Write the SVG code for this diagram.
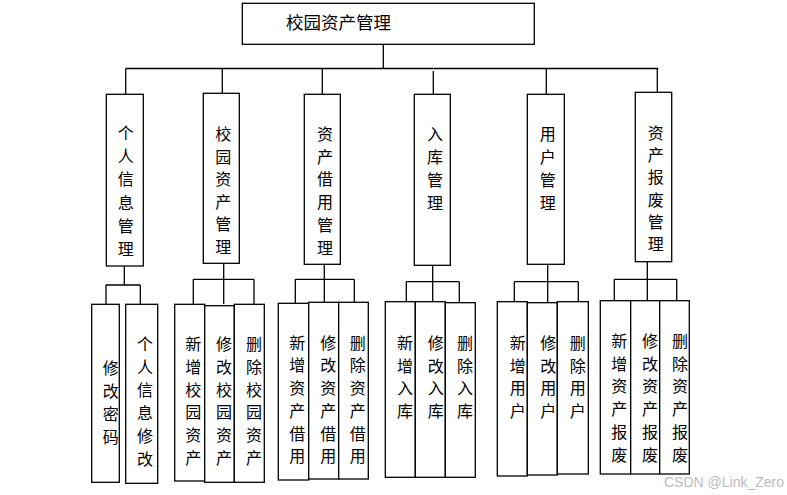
<svg xmlns="http://www.w3.org/2000/svg" width="787" height="495" viewBox="0 0 787 495">
<style>
.b{fill:#fff;stroke:#000;stroke-width:1.3}
.c{fill:none;stroke:#000;stroke-width:1.3}
.t{font-family:"Noto Sans CJK SC","Liberation Serif",sans-serif;font-size:16px;fill:#000;text-anchor:middle;dominant-baseline:central}
.top{font-size:17.5px;text-anchor:start}
.wm{font-family:"Liberation Sans",sans-serif;font-size:14px;fill:#bbb}
</style>
<rect width="787" height="495" fill="#fff"/>
<g id="connectors">
<path class="c" d="M383.3 44V69M125.7 68.5H658.3"/>
<path class="c" d="M125.7 68.5V94M222.3 68.5V93M322.3 68.5V94M433.3 71V94M546.3 68.5V94M657.3 68.5V92"/>
<path class="c" d="M124.3 266V285M106 285H140.3M106 285V304M140.3 285V305"/>
<path class="c" d="M223.7 263V304M193.3 279.3H254M193.3 279.3V304M254 279.3V304"/>
<path class="c" d="M324.3 264V302.5M295.3 279.3H354.3M295.3 279.3V303M354.3 279.3V302.5"/>
<path class="c" d="M432.7 265V301.5M406.3 281.7H459.3M406.3 281.7V301.5M459.3 281.7V302.5"/>
<path class="c" d="M547.7 264V302.5M514.3 281.7H578.3M514.3 281.7V301.5M578.3 281.7V301.5"/>
<path class="c" d="M647.3 262V300.5M614.3 279.3H676.7M614.3 279.3V300.5M676.7 279.3V300.5"/>
</g>
<g id="root"><rect class="b" x="242.3" y="3.3" width="292" height="41"/><text class="t top" x="286" y="21">校园资产管理</text></g>
<g id="n1"><rect class="b" x="106.3" y="94.3" width="37" height="171.7"/><text class="t"><tspan x="125.7" y="131.7">个</tspan><tspan x="125.7" y="155">人</tspan><tspan x="125.7" y="178.3">信</tspan><tspan x="125.7" y="201.6">息</tspan><tspan x="125.7" y="224.9">管</tspan><tspan x="125.7" y="248.2">理</tspan></text></g>
<g id="n2"><rect class="b" x="203.3" y="93.3" width="36" height="170"/><text class="t"><tspan x="223.3" y="133">校</tspan><tspan x="223.3" y="155.6">园</tspan><tspan x="223.3" y="178.2">资</tspan><tspan x="223.3" y="200.8">产</tspan><tspan x="223.3" y="223.4">管</tspan><tspan x="223.3" y="246">理</tspan></text></g>
<g id="n3"><rect class="b" x="304.3" y="94.3" width="36" height="170"/><text class="t"><tspan x="325" y="133">资</tspan><tspan x="325" y="155.7">产</tspan><tspan x="325" y="178.4">借</tspan><tspan x="325" y="201.1">用</tspan><tspan x="325" y="223.8">管</tspan><tspan x="325" y="246.5">理</tspan></text></g>
<g id="n4"><rect class="b" x="414.3" y="94.3" width="36" height="171"/><text class="t"><tspan x="435" y="133.3">入</tspan><tspan x="435" y="156.1">库</tspan><tspan x="435" y="178.9">管</tspan><tspan x="435" y="201.7">理</tspan></text></g>
<g id="n5"><rect class="b" x="527.3" y="94.3" width="37" height="170"/><text class="t"><tspan x="547.7" y="133.3">用</tspan><tspan x="547.7" y="156.1">户</tspan><tspan x="547.7" y="178.9">管</tspan><tspan x="547.7" y="201.7">理</tspan></text></g>
<g id="n6"><rect class="b" x="635.3" y="92.3" width="36.4" height="169.4"/><text class="t"><tspan x="655.7" y="131.7">资</tspan><tspan x="655.7" y="154">产</tspan><tspan x="655.7" y="176.3">报</tspan><tspan x="655.7" y="198.6">废</tspan><tspan x="655.7" y="220.9">管</tspan><tspan x="655.7" y="243.2">理</tspan></text></g>
<g id="n1a"><rect class="b" x="91.7" y="304.3" width="27.6" height="178"/><text class="t"><tspan x="110.7" y="366.7">修</tspan><tspan x="110.7" y="389.7">改</tspan><tspan x="110.7" y="412.7">密</tspan><tspan x="110.7" y="435.7">码</tspan></text></g>
<g id="n1b"><rect class="b" x="125.7" y="304.3" width="32" height="179"/><text class="t"><tspan x="145" y="343.3">个</tspan><tspan x="145" y="366.3">人</tspan><tspan x="145" y="389.3">信</tspan><tspan x="145" y="412.3">息</tspan><tspan x="145" y="435.3">修</tspan><tspan x="145" y="458.3">改</tspan></text></g>
<g id="n2a"><rect class="b" x="174.7" y="304.3" width="30" height="176.7"/><text class="t"><tspan x="193.3" y="343.3">新</tspan><tspan x="193.3" y="366">增</tspan><tspan x="193.3" y="388.7">校</tspan><tspan x="193.3" y="411.4">园</tspan><tspan x="193.3" y="434.1">资</tspan><tspan x="193.3" y="456.8">产</tspan></text></g>
<g id="n2b"><rect class="b" x="204.7" y="305.7" width="29.6" height="176.6"/><text class="t"><tspan x="224" y="343.3">修</tspan><tspan x="224" y="366">改</tspan><tspan x="224" y="388.7">校</tspan><tspan x="224" y="411.4">园</tspan><tspan x="224" y="434.1">资</tspan><tspan x="224" y="456.8">产</tspan></text></g>
<g id="n2c"><rect class="b" x="234.3" y="304.3" width="30" height="178"/><text class="t"><tspan x="254" y="343.3">删</tspan><tspan x="254" y="366">除</tspan><tspan x="254" y="388.7">校</tspan><tspan x="254" y="411.4">园</tspan><tspan x="254" y="434.1">资</tspan><tspan x="254" y="456.8">产</tspan></text></g>
<g id="n3a"><rect class="b" x="278.3" y="303.3" width="30.4" height="176.7"/><text class="t"><tspan x="297.3" y="341.7">新</tspan><tspan x="297.3" y="364.4">增</tspan><tspan x="297.3" y="387.1">资</tspan><tspan x="297.3" y="409.8">产</tspan><tspan x="297.3" y="432.5">借</tspan><tspan x="297.3" y="455.2">用</tspan></text></g>
<g id="n3b"><rect class="b" x="308.7" y="302.3" width="30" height="176.7"/><text class="t"><tspan x="328.3" y="341.7">修</tspan><tspan x="328.3" y="364.4">改</tspan><tspan x="328.3" y="387.1">资</tspan><tspan x="328.3" y="409.8">产</tspan><tspan x="328.3" y="432.5">借</tspan><tspan x="328.3" y="455.2">用</tspan></text></g>
<g id="n3c"><rect class="b" x="338.7" y="302.3" width="29.6" height="176.7"/><text class="t"><tspan x="357.7" y="341.7">删</tspan><tspan x="357.7" y="364.4">除</tspan><tspan x="357.7" y="387.1">资</tspan><tspan x="357.7" y="409.8">产</tspan><tspan x="357.7" y="432.5">借</tspan><tspan x="357.7" y="455.2">用</tspan></text></g>
<g id="n4a"><rect class="b" x="385.3" y="301.7" width="30" height="175.6"/><text class="t"><tspan x="405" y="341.7">新</tspan><tspan x="405" y="364.5">增</tspan><tspan x="405" y="387.3">入</tspan><tspan x="405" y="410.1">库</tspan></text></g>
<g id="n4b"><rect class="b" x="415.3" y="301.7" width="30" height="175.6"/><text class="t"><tspan x="435.7" y="341.7">修</tspan><tspan x="435.7" y="364.5">改</tspan><tspan x="435.7" y="387.3">入</tspan><tspan x="435.7" y="410.1">库</tspan></text></g>
<g id="n4c"><rect class="b" x="445.3" y="302.7" width="30" height="174.6"/><text class="t"><tspan x="465" y="341.7">删</tspan><tspan x="465" y="364.5">除</tspan><tspan x="465" y="387.3">入</tspan><tspan x="465" y="410.1">库</tspan></text></g>
<g id="n5a"><rect class="b" x="497.3" y="301.7" width="30" height="174.3"/><text class="t"><tspan x="517.7" y="341.7">新</tspan><tspan x="517.7" y="364.5">增</tspan><tspan x="517.7" y="387.3">用</tspan><tspan x="517.7" y="410.1">户</tspan></text></g>
<g id="n5b"><rect class="b" x="527.3" y="302.7" width="30" height="172.3"/><text class="t"><tspan x="548.3" y="341.7">修</tspan><tspan x="548.3" y="364.5">改</tspan><tspan x="548.3" y="387.3">用</tspan><tspan x="548.3" y="410.1">户</tspan></text></g>
<g id="n5c"><rect class="b" x="557.3" y="301.7" width="31" height="172.3"/><text class="t"><tspan x="577.7" y="341.7">删</tspan><tspan x="577.7" y="364.5">除</tspan><tspan x="577.7" y="387.3">用</tspan><tspan x="577.7" y="410.1">户</tspan></text></g>
<g id="n6a"><rect class="b" x="600.3" y="300.7" width="30.4" height="173.3"/><text class="t"><tspan x="619.3" y="340">新</tspan><tspan x="619.3" y="362.7">增</tspan><tspan x="619.3" y="385.4">资</tspan><tspan x="619.3" y="408.1">产</tspan><tspan x="619.3" y="430.8">报</tspan><tspan x="619.3" y="453.5">废</tspan></text></g>
<g id="n6b"><rect class="b" x="630.7" y="300.7" width="29" height="173.3"/><text class="t"><tspan x="650" y="340">修</tspan><tspan x="650" y="362.7">改</tspan><tspan x="650" y="385.4">资</tspan><tspan x="650" y="408.1">产</tspan><tspan x="650" y="430.8">报</tspan><tspan x="650" y="453.5">废</tspan></text></g>
<g id="n6c"><rect class="b" x="659.7" y="300.7" width="29.6" height="173.3"/><text class="t"><tspan x="680" y="340">删</tspan><tspan x="680" y="362.7">除</tspan><tspan x="680" y="385.4">资</tspan><tspan x="680" y="408.1">产</tspan><tspan x="680" y="430.8">报</tspan><tspan x="680" y="453.5">废</tspan></text></g>
<text class="wm" x="664" y="487">CSDN @Link_Zero</text>
</svg>
